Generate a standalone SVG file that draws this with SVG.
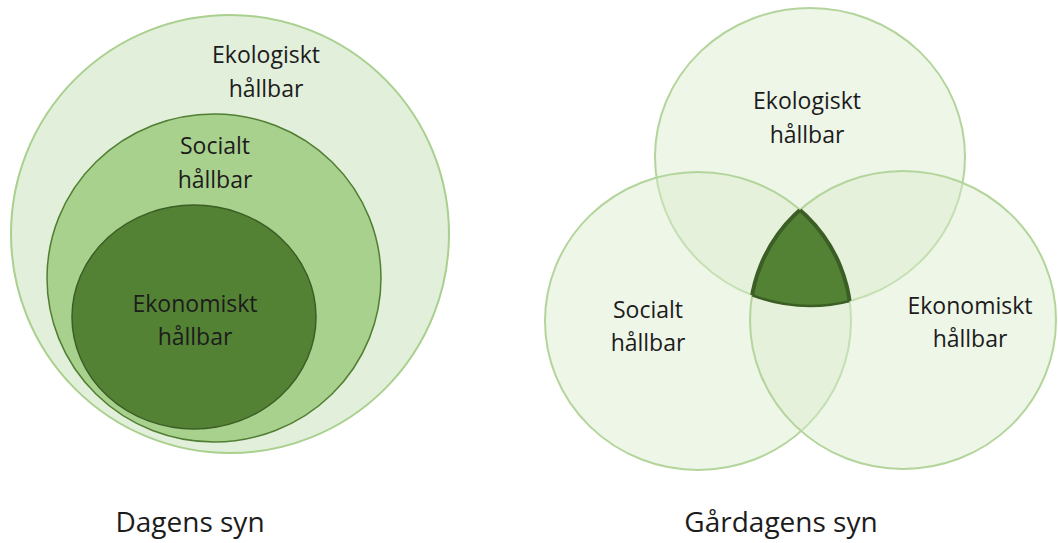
<svg xmlns="http://www.w3.org/2000/svg" width="1058" height="543" viewBox="0 0 1058 543">
<style>
.t{font-family:"Open Sans","Noto Sans","Liberation Sans",sans-serif;font-size:23px;fill:#1c1c1c;text-anchor:middle}
.b{font-family:"Open Sans","Noto Sans","Liberation Sans",sans-serif;font-size:28px;fill:#1c1c1c;text-anchor:middle}
.v{fill:#d9eacd;fill-opacity:0.45;stroke:#b3d59b;stroke-width:2}
</style>
<defs>
<clipPath id="cT"><ellipse cx="810" cy="157" rx="155" ry="149"/></clipPath>
<clipPath id="cL"><ellipse cx="698" cy="321" rx="153" ry="149"/></clipPath>
<clipPath id="cR"><ellipse cx="903" cy="320" rx="153" ry="149"/></clipPath>
</defs>
<rect width="1058" height="543" fill="#ffffff"/>
<g id="dagens-ekologiskt">
<ellipse cx="230" cy="234" rx="219" ry="219" fill="#e2efda" stroke="#a9d08e" stroke-width="2"/>
<text class="t" x="266" y="63">Ekologiskt</text>
<text class="t" x="266" y="97">hållbar</text>
</g>
<g id="dagens-socialt">
<ellipse cx="214" cy="278" rx="167" ry="164" fill="#a9d18e" stroke="#507e32" stroke-width="1.5"/>
<text class="t" x="215" y="154">Socialt</text>
<text class="t" x="215" y="188">hållbar</text>
</g>
<g id="dagens-ekonomiskt">
<ellipse cx="194" cy="317" rx="122" ry="112" fill="#548235" stroke="#3b5e25" stroke-width="1.5"/>
<text class="t" x="195" y="312">Ekonomiskt</text>
<text class="t" x="195" y="345">hållbar</text>
</g>
<g id="gardagens-ekologiskt">
<ellipse class="v" cx="810" cy="157" rx="155" ry="149"/>
<text class="t" x="807" y="109">Ekologiskt</text>
<text class="t" x="807" y="143">hållbar</text>
</g>
<g id="gardagens-socialt">
<ellipse class="v" cx="698" cy="321" rx="153" ry="149"/>
<text class="t" x="648" y="318">Socialt</text>
<text class="t" x="648" y="351">hållbar</text>
</g>
<g id="gardagens-ekonomiskt">
<ellipse class="v" cx="903" cy="320" rx="153" ry="149"/>
<text class="t" x="970" y="314">Ekonomiskt</text>
<text class="t" x="970" y="347">hållbar</text>
</g>
<g id="gardagens-hallbar">
<g clip-path="url(#cL)"><g clip-path="url(#cR)">
<ellipse cx="810" cy="157" rx="155" ry="149" fill="#548235" stroke="#3b5e25" stroke-width="2.5"/>
</g></g>
<g clip-path="url(#cT)"><g clip-path="url(#cL)">
<ellipse cx="903" cy="320" rx="153" ry="149" fill="none" stroke="#3b5e25" stroke-width="4"/>
</g></g>
<g clip-path="url(#cT)"><g clip-path="url(#cR)">
<ellipse cx="698" cy="321" rx="153" ry="149" fill="none" stroke="#3b5e25" stroke-width="4"/>
</g></g>
</g>
<g id="captions">
<text class="b" x="190" y="532">Dagens syn</text>
<text class="b" x="781" y="532">Gårdagens syn</text>
</g>
</svg>
